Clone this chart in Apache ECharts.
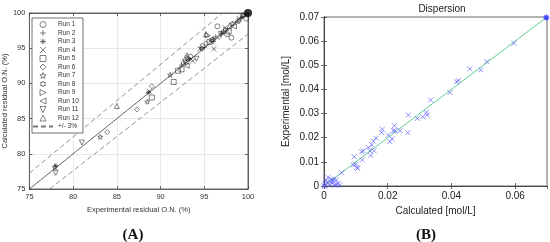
<!DOCTYPE html>
<html>
<head>
<meta charset="utf-8">
<script src="https://cdn.jsdelivr.net/npm/echarts@6/dist/echarts.min.js"></script>
<style>
  html, body { margin: 0; padding: 0; background: #fff; }
  #chart { width: 550px; height: 242px; }
</style>
</head>
<body>
<div id="chart"></div>
<script>
// (A) experimental vs calculated residual O.N. [x, y] per run
var run1 = [[96.5, 98.1], [98.1, 96.5], [99.8, 99.2], [94.8, 95.3], [97.6, 97.0], [93.4, 93.8]]
var run2 = [[92.4, 92.6], [95.0, 95.1], [98.6, 98.7], [96.3, 96.6]]
var run3 = [[88.6, 88.7], [93.3, 93.4], [97.0, 97.1], [99.3, 99.4], [78.0, 78.3]]
var run4 = [[88.7, 88.9], [96.1, 94.9], [97.4, 97.9], [94.5, 94.9], [99.0, 99.2], [93.7, 93.2]]
var run5 = [[89.0, 88.0], [91.5, 90.2], [92.0, 91.8], [95.6, 95.9], [97.8, 97.4], [92.4, 92.0]]
var run6 = [[83.9, 83.1], [87.3, 86.3], [89.0, 89.6], [92.6, 92.9], [96.7, 96.6], [98.9, 98.8], [95.2, 95.7]]
var run7 = [[77.9, 78.1], [83.1, 82.4], [88.5, 87.4], [91.1, 91.2], [94.7, 95.0], [98.2, 98.5]]
var run8 = [[92.9, 93.0], [95.9, 96.2], [99.4, 99.6], [97.2, 97.3]]
var run9 = [[93.2, 93.6], [95.4, 96.8], [97.5, 97.6], [99.6, 99.7]]
var run10 = [[93.0, 92.5], [95.8, 96.0], [98.4, 98.1]]
var run11 = [[78.0, 77.3], [81.0, 81.6], [92.8, 93.1], [94.1, 93.5], [96.9, 97.0], [99.0, 98.9]]
var run12 = [[85.0, 86.8], [93.0, 94.0], [95.2, 97.0], [97.9, 98.2], [96.0, 96.3]]
var runs = [run1, run2, run3, run4, run5, run6, run7, run8, run9, run10, run11, run12]
var runNames = ['Run 1', 'Run 2', 'Run 3', 'Run 4', 'Run 5', 'Run 6', 'Run 7', 'Run 8', 'Run 9', 'Run 10', 'Run 11', 'Run 12']

// (B) dispersion: calculated vs experimental [mol/L]
var calculated = [0.0265, 0.0263, 0.0221, 0.0218, 0.0223, 0.0239, 0.0207, 0.0214, 0.0202, 0.0183, 0.0181,
  0.0163, 0.0155, 0.0150, 0.0157, 0.0144, 0.0147, 0.0139, 0.0123, 0.0118, 0.0120, 0.0095, 0.0100, 0.0103,
  0.0106, 0.0092, 0.0055, 0.0293, 0.0310, 0.0322, 0.0324, 0.0335, 0.0395, 0.0416, 0.0422, 0.0458, 0.0492,
  0.0511, 0.0596, 0.0013, 0.0007, 0.0002, 0.0004, 0.0023, 0.0021, 0.0028, 0.0025, 0.0034, 0.0039, 0.0018,
  0.0010, 0.0044, 0.0049, 0.0031, 0.0039, 0.0000]
var experimental = [0.0294, 0.0221, 0.0250, 0.0229, 0.0229, 0.0229, 0.0184, 0.0195, 0.0211, 0.0235, 0.0222,
  0.0198, 0.0186, 0.0170, 0.0146, 0.0146, 0.0126, 0.0160, 0.0146, 0.0142, 0.0108, 0.0121, 0.0090, 0.0077,
  0.0073, 0.0087, 0.0055, 0.0280, 0.0287, 0.0305, 0.0294, 0.0356, 0.0387, 0.0432, 0.0436, 0.0485, 0.0481,
  0.0515, 0.0591, 0.0036, 0.0025, 0.0011, 0.0000, 0.0028, 0.0018, 0.0021, 0.0011, 0.0004, 0.0004, 0.0004,
  0.0014, 0.0011, 0.0004, 0.0028, 0.0025, 0.0000]
var corner = [[0.0698, 0.0698]]

var font = 'Liberation Sans'
var axisCol = '#444'

var markers = [
  'circle',
  'path://M5,0V10M0,5H10',
  'path://M5,0V10M0,5H10M1.5,1.5L8.5,8.5M8.5,1.5L1.5,8.5',
  'path://M0,0L10,10M10,0L0,10',
  'path://M0,0H10V10H0Z',
  'path://M5,0L10,5L5,10L0,5Z',
  'path://M5,0L6.2,3.6L10,3.6L6.9,5.8L8.1,9.5L5,7.2L1.9,9.5L3.1,5.8L0,3.6L3.8,3.6Z',
  'path://M5,0L6.4,2.5L9.3,2.5L7.9,5L9.3,7.5L6.4,7.5L5,10L3.6,7.5L0.7,7.5L2.1,5L0.7,2.5L3.6,2.5Z',
  'path://M0,0L10,5L0,10Z',
  'path://M10,0L0,5L10,10Z',
  'path://M0,0L10,0L5,10Z',
  'path://M5,0L10,10L0,10Z'
]

var series = []
runs.forEach(function (pts, i) {
  series.push({
    name: runNames[i],
    type: 'scatter',
    xAxisIndex: 0,
    yAxisIndex: 0,
    symbol: markers[i],
    symbolSize: 5,
    itemStyle: { color: 'transparent', borderColor: '#222', borderWidth: 0.7 },
    data: pts,
    z: 5
  })
})

series.push({
  name: 'fit', type: 'line', xAxisIndex: 0, yAxisIndex: 0, symbol: 'none',
  lineStyle: { color: '#555', width: 0.9 }, data: [[75, 75], [100, 100]], z: 3
})
series.push({
  name: '+/- 3%', type: 'line', xAxisIndex: 0, yAxisIndex: 0, symbol: 'none',
  itemStyle: { color: 'transparent', borderColor: 'transparent' },
  lineStyle: { color: '#777', width: 0.8, type: [5, 3] },
  data: [[75, 75 * 1.03], [100 / 1.03, 100]], z: 3
})
series.push({
  name: '+/- 3% low', type: 'line', xAxisIndex: 0, yAxisIndex: 0, symbol: 'none',
  lineStyle: { color: '#777', width: 0.8, type: [5, 3] },
  data: [[75 / 0.97, 75], [100, 97]], z: 3
})
series.push({
  name: 'end', type: 'scatter', xAxisIndex: 0, yAxisIndex: 0, symbol: 'circle', symbolSize: 8,
  itemStyle: { color: '#000' }, data: [[100, 100]], z: 6
})

// panel B
series.push({
  name: 'ideal', type: 'line', xAxisIndex: 2, yAxisIndex: 2, symbol: 'none',
  lineStyle: { color: '#5fcf8e', width: 1 }, data: [[0, 0], [0.07, 0.07]], z: 3
})
series.push({
  name: 'disp', type: 'scatter', xAxisIndex: 2, yAxisIndex: 2,
  symbol: 'path://M0,0L10,10M10,0L0,10', symbolSize: 5,
  itemStyle: { color: 'transparent', borderColor: '#5252ff', borderWidth: 0.8 },
  data: calculated.map(function (c, i) { return [c, experimental[i]] }), z: 5
})
series.push({
  name: 'corner', type: 'scatter', xAxisIndex: 2, yAxisIndex: 2,
  symbol: 'path://M5,0V10M0,5H10M1.5,1.5L8.5,8.5M8.5,1.5L1.5,8.5', symbolSize: 6,
  itemStyle: { color: 'transparent', borderColor: '#3030ff', borderWidth: 1.4 },
  data: corner, z: 6
})

function valAxis(opt) {
  var base = {
    type: 'value',
    axisLine: { show: true, lineStyle: { color: axisCol, width: 0.8 } },
    axisTick: { show: true, inside: true, length: 3, lineStyle: { color: axisCol, width: 0.8 } },
    axisLabel: { color: '#333', fontFamily: font, fontSize: 7.5, margin: 4 },
    splitLine: { show: false },
    nameTextStyle: { color: '#333', fontFamily: font, fontSize: 7.5 }
  }
  return Object.assign(base, opt)
}
var noLabel = { show: false }
var gridLines = { show: true, lineStyle: { color: '#e2e2e2', width: 0.8 } }
function labelB(extra) {
  return Object.assign({ color: '#222', fontFamily: font, fontSize: 10, margin: 5,
    formatter: function (v) { return v === 0 ? '0' : v.toFixed(2) } }, extra)
}

var chart = echarts.init(document.getElementById('chart'))
chart.setOption({
  animation: false,
  backgroundColor: '#fff',
  title: [
    { text: 'Dispersion', left: 437, top: -1, textAlign: 'center',
      textStyle: { fontFamily: font, fontSize: 10, fontWeight: 'normal', color: '#222' } },
    { text: '(A)', left: 128, top: 223, textAlign: 'center',
      textStyle: { fontFamily: 'Liberation Serif', fontSize: 15, fontWeight: 'bold', color: '#111' } },
    { text: '(B)', left: 421, top: 223, textAlign: 'center',
      textStyle: { fontFamily: 'Liberation Serif', fontSize: 15, fontWeight: 'bold', color: '#111' } }
  ],
  legend: {
    data: runNames.concat(['+/- 3%']),
    orient: 'vertical',
    left: 32,
    top: 18,
    padding: [3, 4, 3, 0],
    itemWidth: 20,
    itemHeight: 6,
    itemGap: 1.5,
    backgroundColor: '#fff',
    borderColor: '#333',
    borderWidth: 0.7,
    itemStyle: { borderWidth: 0.7 },
    textStyle: { fontFamily: font, fontSize: 6.5, color: '#333', lineHeight: 6 }
  },
  grid: [
    { left: 27, top: 13, width: 221, height: 176, show: true, borderColor: axisCol, borderWidth: 0.8 },
    { left: 324, top: 17, width: 223, height: 169, show: true, borderColor: axisCol, borderWidth: 0.8 }
  ],
  xAxis: [
    valAxis({ gridIndex: 0, min: 75, max: 100, interval: 5, splitLine: gridLines,
      name: 'Experimental residual O.N. (%)', nameLocation: 'middle', nameGap: 13 }),
    valAxis({ gridIndex: 0, position: 'top', min: 75, max: 100, interval: 5, axisLabel: noLabel }),
    valAxis({ gridIndex: 1, min: 0, max: 0.07, interval: 0.02, axisLabel: labelB({ showMaxLabel: false }),
      name: 'Calculated [mol/L]', nameLocation: 'middle', nameGap: 18,
      nameTextStyle: { color: '#222', fontFamily: font, fontSize: 10 } }),
    valAxis({ gridIndex: 1, position: 'top', min: 0, max: 0.07, interval: 0.02, axisLabel: noLabel })
  ],
  yAxis: [
    valAxis({ gridIndex: 0, min: 75, max: 100, interval: 5, splitLine: gridLines,
      name: 'Calculated residual O.N. (%)', nameLocation: 'middle', nameGap: 16 }),
    valAxis({ gridIndex: 0, position: 'right', min: 75, max: 100, interval: 5, axisLabel: noLabel }),
    valAxis({ gridIndex: 1, min: 0, max: 0.07, interval: 0.01, axisLabel: labelB({}),
      name: 'Experimental [mol/L]', nameLocation: 'middle', nameGap: 33,
      nameTextStyle: { color: '#222', fontFamily: font, fontSize: 10 } }),
    valAxis({ gridIndex: 1, position: 'right', min: 0, max: 0.07, interval: 0.01, axisLabel: noLabel })
  ],
  series: series
})
</script>
</body>
</html>
